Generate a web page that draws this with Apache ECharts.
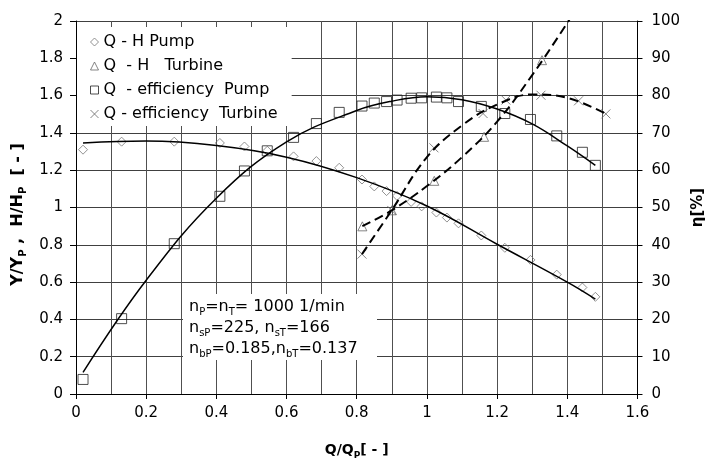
<!DOCTYPE html>
<html lang="en">
<head>
<meta charset="UTF-8">
<title>Pump / turbine characteristics</title>
<script src="https://cdn.jsdelivr.net/npm/echarts@6/dist/echarts.min.js"></script>
<style>html,body{margin:0;padding:0;background:#fff;}</style>
</head>
<body>
<div id="main" style="width:714px;height:465px;"></div>
<script type="text/javascript">
// measured points, pump (same Q for head and efficiency)
var qPump   = [0.02, 0.13, 0.28, 0.41, 0.48, 0.545, 0.62, 0.685, 0.75, 0.815, 0.85, 0.885, 0.915, 0.955, 0.985, 1.027, 1.057, 1.09, 1.155, 1.222, 1.295, 1.37, 1.443, 1.48];
var hPump   = [1.31, 1.353, 1.353, 1.346, 1.327, 1.304, 1.274, 1.249, 1.213, 1.15, 1.113, 1.088, 1.062, 1.03, 1.006, 0.973, 0.946, 0.915, 0.85, 0.784, 0.719, 0.64, 0.571, 0.521];
var effPump = [3.9, 20.2, 40.3, 53.0, 59.8, 65.2, 68.8, 72.5, 75.5, 77.2, 78.0, 78.4, 78.8, 79.3, 79.4, 79.6, 79.4, 78.4, 77.1, 75.2, 73.6, 69.2, 64.8, 61.3];

// measured points, turbine
var qTurbH  = [0.816, 0.9, 1.021, 1.163, 1.328];
var hTurb   = [0.899, 0.985, 1.143, 1.379, 1.79];
var qTurbE  = [0.815, 0.9, 1.02, 1.16, 1.225, 1.325, 1.432, 1.51];
var effTurb = [37.5, 49.2, 66.0, 75.2, 78.8, 80.1, 78.6, 75.1];

// fitted curves
var qPumpHFit   = [0.02, 0.2, 0.4, 0.6, 0.8, 1.0, 1.2, 1.4, 1.48];
var hPumpFit    = [1.346, 1.356, 1.332, 1.27, 1.16, 1.008, 0.803, 0.60, 0.509];
var qPumpEFit   = [0.02, 0.2, 0.4, 0.6, 0.8, 0.9, 1.0, 1.1, 1.2, 1.3, 1.4, 1.48];
var effPumpFit  = [5.8, 30.5, 52.5, 67.6, 76.0, 78.5, 79.7, 78.9, 76.4, 72.4, 66.5, 61.3];
var qTurbHFit   = [0.816, 0.9, 1.0, 1.1, 1.2, 1.3, 1.4, 1.45];
var hTurbFit    = [0.90, 0.985, 1.115, 1.27, 1.46, 1.71, 1.99, 2.14];
var qTurbEFit   = [0.815, 0.9, 1.0, 1.1, 1.2, 1.3, 1.4, 1.51];
var effTurbFit  = [37.5, 49.3, 63.5, 72.0, 77.6, 80.3, 79.4, 75.1];

var legendNames = ['Q - H Pump', 'Q  - H   Turbine', 'Q  - efficiency  Pump', 'Q - efficiency  Turbine'];

var FONT = '"DejaVu Sans", Arial, sans-serif';
var crossPath = 'path://M0,0L10,10M10,0L0,10';

function pairs(xs, ys) {
  var out = [];
  for (var i = 0; i < xs.length; i++) out.push([xs[i], ys[i]]);
  return out;
}

// rich styles for subscripts
function richStyles(size, bold) {
  var w = bold ? 'bold' : 'normal';
  return {
    m: { fontSize: size, fontWeight: w, color: '#000', lineHeight: 20, fontFamily: FONT },
    s: { fontSize: Math.round(size * 0.65), fontWeight: w, color: '#000', lineHeight: 10, verticalAlign: 'bottom', fontFamily: FONT }
  };
}

var markStyles = [
  { color: 'transparent', borderColor: '#777', borderWidth: 1 },
  { color: 'transparent', borderColor: '#666', borderWidth: 1 },
  { color: 'transparent', borderColor: '#222', borderWidth: 1 },
  { color: 'transparent', borderColor: '#666', borderWidth: 1 }
];

var chart = echarts.init(document.getElementById('main'));

var option = {
  animation: false,
  textStyle: { fontFamily: FONT },
  grid: { left: 76, right: 73, top: 21, bottom: 63 },
  legend: {
    data: legendNames.map(function (n, i) { return { name: n, itemStyle: markStyles[i] }; }),
    orient: 'vertical',
    left: 77, top: 27,
    backgroundColor: '#fff',
    padding: [7, 14, 4, 13],
    itemWidth: 8, itemHeight: 8, itemGap: 8,
    textStyle: { fontSize: 16, color: '#000', fontFamily: FONT },
    selectedMode: false
  },
  xAxis: {
    type: 'value', min: 0, max: 1.6, interval: 0.2,
    name: '{m|Q/Q}{s|P}{m|[ - ]}',
    nameLocation: 'middle', nameGap: 46,
    nameTextStyle: { rich: richStyles(14, true) },
    axisLine: { show: true, onZero: false, lineStyle: { color: '#000' } },
    axisTick: { show: true, length: 5, lineStyle: { color: '#000' } },
    axisLabel: { fontSize: 15, color: '#000', margin: 12 },
    splitLine: { show: true, lineStyle: { color: '#505050' } },
    minorTick: { show: false, splitNumber: 2 },
    minorSplitLine: { show: true, lineStyle: { color: '#505050' } }
  },
  yAxis: [{
    type: 'value', min: 0, max: 2, interval: 0.2,
    name: '{m|Y/Y}{s|P}{m| ,  H/H}{s|P}{m|  [ - ]}',
    nameLocation: 'middle', nameRotate: 90, nameGap: 47,
    nameTextStyle: { rich: richStyles(16, true), padding: [0, 14, 0, 0] },
    axisLine: { show: true, onZero: false, lineStyle: { color: '#000' } },
    axisTick: { show: true, length: 6, lineStyle: { color: '#000' } },
    axisLabel: { fontSize: 15, color: '#000', margin: 13 },
    splitLine: { show: true, lineStyle: { color: '#404040' } }
  }, {
    type: 'value', min: 0, max: 100, interval: 10, position: 'right',
    name: 'η[%]',
    nameLocation: 'middle', nameRotate: 90, nameGap: 50,
    nameTextStyle: { fontSize: 15, fontWeight: 'bold', color: '#000' },
    axisLine: { show: true, onZero: false, lineStyle: { color: '#000' } },
    axisTick: { show: true, length: 5, lineStyle: { color: '#000' } },
    axisLabel: { fontSize: 15, color: '#000', margin: 14 },
    splitLine: { show: false }
  }],
  graphic: [{
    type: 'rect', z: 1,
    shape: { x: 183, y: 294, width: 194, height: 66 },
    style: { fill: '#fff' }
  }, {
    type: 'text', z: 2, left: 189, top: 299,
    style: {
      text: '{m|n}{s|P}{m|=n}{s|T}{m|= 1000 1/min}\n' +
            '{m|n}{s|sP}{m|=225, n}{s|sT}{m|=166}\n' +
            '{m|n}{s|bP}{m|=0.185,n}{s|bT}{m|=0.137}',
      rich: {
        m: { fontSize: 16, fill: '#000', lineHeight: 21, fontFamily: FONT },
        s: { fontSize: 10, fill: '#000', lineHeight: 10, verticalAlign: 'bottom', fontFamily: FONT }
      }
    }
  }],
  series: [{
    name: legendNames[0], type: 'scatter', silent: true,
    symbol: 'diamond', symbolSize: 9,
    itemStyle: markStyles[0],
    data: pairs(qPump, hPump)
  }, {
    name: legendNames[1], type: 'scatter', silent: true,
    symbol: 'triangle', symbolSize: 9,
    itemStyle: markStyles[1],
    data: pairs(qTurbH, hTurb)
  }, {
    name: legendNames[2], type: 'scatter', silent: true, yAxisIndex: 1,
    symbol: 'rect', symbolSize: 10,
    itemStyle: markStyles[2],
    data: pairs(qPump, effPump)
  }, {
    name: legendNames[3], type: 'scatter', silent: true, yAxisIndex: 1,
    symbol: crossPath, symbolSize: 9,
    itemStyle: markStyles[3],
    data: pairs(qTurbE, effTurb)
  }, {
    name: 'fitH pump', type: 'line', silent: true, smooth: 0.4,
    showSymbol: false, lineStyle: { color: '#000', width: 1.5 },
    data: pairs(qPumpHFit, hPumpFit)
  }, {
    name: 'fitEff pump', type: 'line', silent: true, smooth: 0.4, yAxisIndex: 1,
    showSymbol: false, lineStyle: { color: '#000', width: 1.5 },
    data: pairs(qPumpEFit, effPumpFit)
  }, {
    name: 'fitH turbine', type: 'line', silent: true, smooth: 0.4,
    showSymbol: false, lineStyle: { color: '#000', width: 2, type: [9, 5] },
    data: pairs(qTurbHFit, hTurbFit)
  }, {
    name: 'fitEff turbine', type: 'line', silent: true, smooth: 0.4, yAxisIndex: 1,
    showSymbol: false, lineStyle: { color: '#000', width: 2, type: [9, 5] },
    data: pairs(qTurbEFit, effTurbFit)
  }]
};

chart.setOption(option);
</script>
</body>
</html>
